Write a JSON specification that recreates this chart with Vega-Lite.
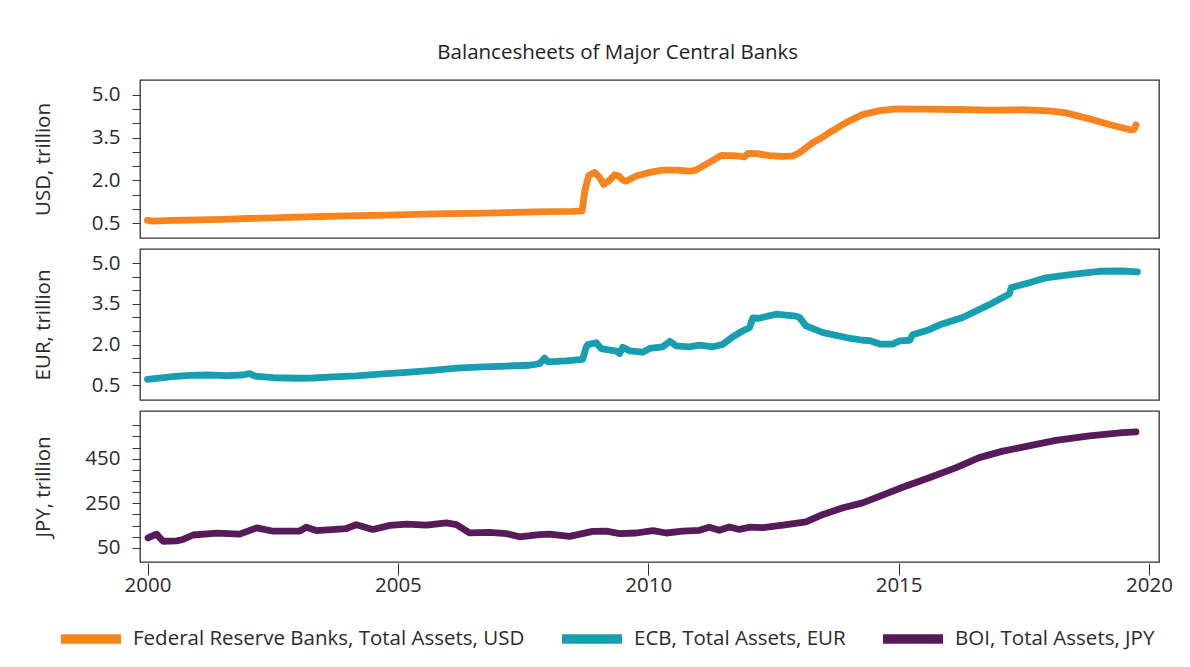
{
  "$schema": "https://vega.github.io/schema/vega-lite/v6.json",
  "padding": {"left": 32, "top": 42, "right": 20, "bottom": 10},
  "title": {"text": "Balancesheets of Major Central Banks", "anchor": "start", "dx": 405, "fontSize": 20.5, "fontWeight": "normal", "color": "#222", "font": "Open Sans", "offset": 16},
  "datasets": {
    "usd": [
      {"t": 2000.0, "v": 0.59}, {"t": 2000.1, "v": 0.57}, {"t": 2000.5, "v": 0.59}, {"t": 2001.0, "v": 0.61}, {"t": 2001.5, "v": 0.63},
      {"t": 2002.0, "v": 0.66}, {"t": 2002.5, "v": 0.68}, {"t": 2003.0, "v": 0.71}, {"t": 2003.5, "v": 0.73}, {"t": 2004.0, "v": 0.75},
      {"t": 2004.5, "v": 0.77}, {"t": 2005.0, "v": 0.79}, {"t": 2005.5, "v": 0.81}, {"t": 2006.0, "v": 0.83}, {"t": 2006.5, "v": 0.84},
      {"t": 2007.0, "v": 0.86}, {"t": 2007.5, "v": 0.88}, {"t": 2008.0, "v": 0.9}, {"t": 2008.5, "v": 0.91}, {"t": 2008.68, "v": 0.93},
      {"t": 2008.73, "v": 1.6}, {"t": 2008.81, "v": 2.17}, {"t": 2008.93, "v": 2.28}, {"t": 2009.03, "v": 2.1}, {"t": 2009.11, "v": 1.86},
      {"t": 2009.23, "v": 2.0}, {"t": 2009.33, "v": 2.2}, {"t": 2009.41, "v": 2.15}, {"t": 2009.5, "v": 2.0}, {"t": 2009.56, "v": 1.97},
      {"t": 2009.76, "v": 2.15}, {"t": 2010.03, "v": 2.28}, {"t": 2010.29, "v": 2.36}, {"t": 2010.56, "v": 2.36}, {"t": 2010.82, "v": 2.32},
      {"t": 2010.95, "v": 2.36}, {"t": 2011.09, "v": 2.5}, {"t": 2011.29, "v": 2.7}, {"t": 2011.46, "v": 2.88}, {"t": 2011.7, "v": 2.87},
      {"t": 2011.82, "v": 2.85}, {"t": 2011.92, "v": 2.82}, {"t": 2011.99, "v": 2.95}, {"t": 2012.16, "v": 2.94}, {"t": 2012.42, "v": 2.87},
      {"t": 2012.69, "v": 2.84}, {"t": 2012.89, "v": 2.86}, {"t": 2013.02, "v": 2.97}, {"t": 2013.29, "v": 3.33}, {"t": 2013.49, "v": 3.52},
      {"t": 2013.62, "v": 3.68}, {"t": 2013.95, "v": 4.03}, {"t": 2014.28, "v": 4.31}, {"t": 2014.62, "v": 4.45}, {"t": 2014.95, "v": 4.51},
      {"t": 2015.48, "v": 4.5}, {"t": 2016.15, "v": 4.49}, {"t": 2016.81, "v": 4.47}, {"t": 2017.48, "v": 4.48}, {"t": 2018.01, "v": 4.44},
      {"t": 2018.34, "v": 4.37}, {"t": 2018.81, "v": 4.16}, {"t": 2019.21, "v": 3.96}, {"t": 2019.64, "v": 3.77}, {"t": 2019.7, "v": 3.79},
      {"t": 2019.74, "v": 3.95}
    ],
    "eur": [
      {"t": 2000.0, "v": 0.72}, {"t": 2000.5, "v": 0.82}, {"t": 2000.84, "v": 0.87}, {"t": 2001.2, "v": 0.88}, {"t": 2001.58, "v": 0.86},
      {"t": 2001.9, "v": 0.88}, {"t": 2002.04, "v": 0.93}, {"t": 2002.15, "v": 0.84}, {"t": 2002.51, "v": 0.78}, {"t": 2003.0, "v": 0.76},
      {"t": 2003.31, "v": 0.77}, {"t": 2003.7, "v": 0.81}, {"t": 2004.17, "v": 0.85}, {"t": 2004.7, "v": 0.92}, {"t": 2005.17, "v": 0.98},
      {"t": 2005.7, "v": 1.05}, {"t": 2006.17, "v": 1.13}, {"t": 2006.7, "v": 1.18}, {"t": 2007.17, "v": 1.21}, {"t": 2007.63, "v": 1.24},
      {"t": 2007.83, "v": 1.3}, {"t": 2007.93, "v": 1.5}, {"t": 2008.0, "v": 1.36}, {"t": 2008.36, "v": 1.4}, {"t": 2008.69, "v": 1.46},
      {"t": 2008.76, "v": 1.9}, {"t": 2008.79, "v": 2.0}, {"t": 2008.96, "v": 2.07}, {"t": 2009.06, "v": 1.85}, {"t": 2009.36, "v": 1.76},
      {"t": 2009.43, "v": 1.67}, {"t": 2009.49, "v": 1.9}, {"t": 2009.63, "v": 1.77}, {"t": 2009.89, "v": 1.72}, {"t": 2010.03, "v": 1.86},
      {"t": 2010.29, "v": 1.92}, {"t": 2010.43, "v": 2.12}, {"t": 2010.56, "v": 1.95}, {"t": 2010.82, "v": 1.92}, {"t": 2011.02, "v": 1.98},
      {"t": 2011.29, "v": 1.92}, {"t": 2011.49, "v": 2.01}, {"t": 2011.69, "v": 2.29}, {"t": 2011.89, "v": 2.51}, {"t": 2012.02, "v": 2.62},
      {"t": 2012.09, "v": 2.98}, {"t": 2012.22, "v": 2.97}, {"t": 2012.55, "v": 3.12}, {"t": 2012.95, "v": 3.05}, {"t": 2013.02, "v": 3.0},
      {"t": 2013.15, "v": 2.69}, {"t": 2013.49, "v": 2.44}, {"t": 2013.95, "v": 2.26}, {"t": 2014.28, "v": 2.16}, {"t": 2014.42, "v": 2.15},
      {"t": 2014.62, "v": 2.02}, {"t": 2014.88, "v": 2.02}, {"t": 2015.02, "v": 2.14}, {"t": 2015.22, "v": 2.16}, {"t": 2015.28, "v": 2.36},
      {"t": 2015.61, "v": 2.55}, {"t": 2015.81, "v": 2.72}, {"t": 2016.28, "v": 3.0}, {"t": 2016.81, "v": 3.47}, {"t": 2017.21, "v": 3.86},
      {"t": 2017.25, "v": 4.1}, {"t": 2017.61, "v": 4.28}, {"t": 2017.94, "v": 4.46}, {"t": 2018.47, "v": 4.59}, {"t": 2019.01, "v": 4.7},
      {"t": 2019.47, "v": 4.71}, {"t": 2019.77, "v": 4.68}
    ],
    "jpy": [
      {"t": 2000.01, "v": 95}, {"t": 2000.18, "v": 112}, {"t": 2000.31, "v": 80}, {"t": 2000.58, "v": 82}, {"t": 2000.71, "v": 88},
      {"t": 2000.91, "v": 108}, {"t": 2001.38, "v": 116}, {"t": 2001.84, "v": 112}, {"t": 2002.18, "v": 140}, {"t": 2002.51, "v": 125},
      {"t": 2003.04, "v": 126}, {"t": 2003.17, "v": 143}, {"t": 2003.37, "v": 128}, {"t": 2003.97, "v": 137}, {"t": 2004.17, "v": 154},
      {"t": 2004.5, "v": 133}, {"t": 2004.84, "v": 151}, {"t": 2005.17, "v": 157}, {"t": 2005.57, "v": 152}, {"t": 2005.97, "v": 162},
      {"t": 2006.17, "v": 155}, {"t": 2006.43, "v": 118}, {"t": 2006.83, "v": 120}, {"t": 2007.17, "v": 114}, {"t": 2007.43, "v": 100},
      {"t": 2007.83, "v": 110}, {"t": 2008.03, "v": 112}, {"t": 2008.43, "v": 102}, {"t": 2008.89, "v": 124}, {"t": 2009.16, "v": 125},
      {"t": 2009.43, "v": 114}, {"t": 2009.76, "v": 117}, {"t": 2010.09, "v": 128}, {"t": 2010.36, "v": 117}, {"t": 2010.69, "v": 125},
      {"t": 2011.02, "v": 129}, {"t": 2011.22, "v": 143}, {"t": 2011.42, "v": 129}, {"t": 2011.62, "v": 144}, {"t": 2011.82, "v": 133},
      {"t": 2012.02, "v": 143}, {"t": 2012.29, "v": 141}, {"t": 2012.69, "v": 152}, {"t": 2013.15, "v": 167}, {"t": 2013.49, "v": 200},
      {"t": 2013.89, "v": 230}, {"t": 2014.28, "v": 252}, {"t": 2014.68, "v": 287}, {"t": 2015.08, "v": 322}, {"t": 2015.61, "v": 365},
      {"t": 2016.15, "v": 410}, {"t": 2016.61, "v": 455}, {"t": 2017.08, "v": 484}, {"t": 2017.48, "v": 502}, {"t": 2018.14, "v": 532},
      {"t": 2018.81, "v": 552}, {"t": 2019.47, "v": 567}, {"t": 2019.74, "v": 570}
    ]
  },
  "spacing": 9,
  "resolve": {"scale": {"color": "shared"}, "legend": {"color": "shared"}},
  "vconcat": [
    {
      "width": 1019, "height": 158,
      "data": {"name": "usd"},
      "mark": {"type": "line", "strokeWidth": 6.8, "strokeCap": "round", "strokeJoin": "round"},
      "encoding": {
        "x": {"field": "t", "type": "quantitative", "scale": {"domain": [1999.85, 2020.2], "nice": false, "zero": false}, "axis": null},
        "y": {"field": "v", "type": "quantitative", "scale": {"domain": [-0.026, 5.526], "nice": false, "zero": false},
          "axis": {"title": "USD, trillion", "values": [0.5, 1, 1.5, 2, 2.5, 3, 3.5, 4, 4.5, 5],
            "labelExpr": "(datum.value == 0.5 || datum.value == 2 || datum.value == 3.5 || datum.value == 5) ? format(datum.value, '.1f') : ''",
            "titleX": -97, "titleY": 79, "titleAlign": "center", "titleBaseline": "middle", "titleAngle": 270}},
        "color": {"datum": "Federal Reserve Banks, Total Assets, USD", "type": "nominal",
          "scale": {"domain": ["Federal Reserve Banks, Total Assets, USD", "ECB, Total Assets, EUR", "BOI, Total Assets, JPY"], "range": ["#f7841f", "#179fb1", "#581b5a"]},
          "legend": {"orient": "none", "legendX": -84, "legendY": 524}}
      }
    },
    {
      "width": 1019, "height": 151,
      "data": {"name": "eur"},
      "mark": {"type": "line", "strokeWidth": 6.8, "strokeCap": "round", "strokeJoin": "round"},
      "encoding": {
        "x": {"field": "t", "type": "quantitative", "scale": {"domain": [1999.85, 2020.2], "nice": false, "zero": false}, "axis": null},
        "y": {"field": "v", "type": "quantitative", "scale": {"domain": [-0.04, 5.52], "nice": false, "zero": false},
          "axis": {"title": "EUR, trillion", "values": [0.5, 1, 1.5, 2, 2.5, 3, 3.5, 4, 4.5, 5],
            "labelExpr": "(datum.value == 0.5 || datum.value == 2 || datum.value == 3.5 || datum.value == 5) ? format(datum.value, '.1f') : ''",
            "titleX": -97, "titleY": 75.5, "titleAlign": "center", "titleBaseline": "middle", "titleAngle": 270}},
        "color": {"datum": "ECB, Total Assets, EUR", "type": "nominal"}
      }
    },
    {
      "width": 1019, "height": 151,
      "data": {"name": "jpy"},
      "mark": {"type": "line", "strokeWidth": 6.8, "strokeCap": "round", "strokeJoin": "round"},
      "encoding": {
        "x": {"field": "t", "type": "quantitative", "scale": {"domain": [1999.85, 2020.2], "nice": false, "zero": false},
          "axis": {"title": null, "values": [2000, 2005, 2010, 2015, 2020], "format": "d", "tickSize": 12, "offset": 1, "labelPadding": 0}},
        "y": {"field": "v", "type": "quantitative", "scale": {"domain": [-13, 664], "nice": false, "zero": false},
          "axis": {"title": "JPY, trillion", "values": [50, 100, 150, 200, 250, 300, 350, 400, 450, 500, 550, 600],
            "labelExpr": "(datum.value == 50 || datum.value == 250 || datum.value == 450) ? format(datum.value, 'd') : ''",
            "titleX": -97, "titleY": 75.5, "titleAlign": "center", "titleBaseline": "middle", "titleAngle": 270}},
        "color": {"datum": "BOI, Total Assets, JPY", "type": "nominal"}
      }
    }
  ],
  "config": {
    "font": "Open Sans",
    "view": {"stroke": "#333", "strokeWidth": 1.3},
    "axis": {"domain": false, "grid": false, "tickColor": "#333", "tickSize": 8, "labelColor": "#2b2b2b", "labelFontSize": 20.5, "labelPadding": 12, "labelOverlap": false, "labelFlush": false,
      "titleFontSize": 20.5, "titleFontWeight": "normal", "titleColor": "#2b2b2b"},
    "legend": {"direction": "horizontal", "title": null, "symbolType": "stroke", "symbolStrokeWidth": 9.5, "symbolSize": 3600,
      "labelFontSize": 20.5, "labelColor": "#2b2b2b", "labelOffset": 7, "columnPadding": 18, "labelLimit": 1000}
  }
}
